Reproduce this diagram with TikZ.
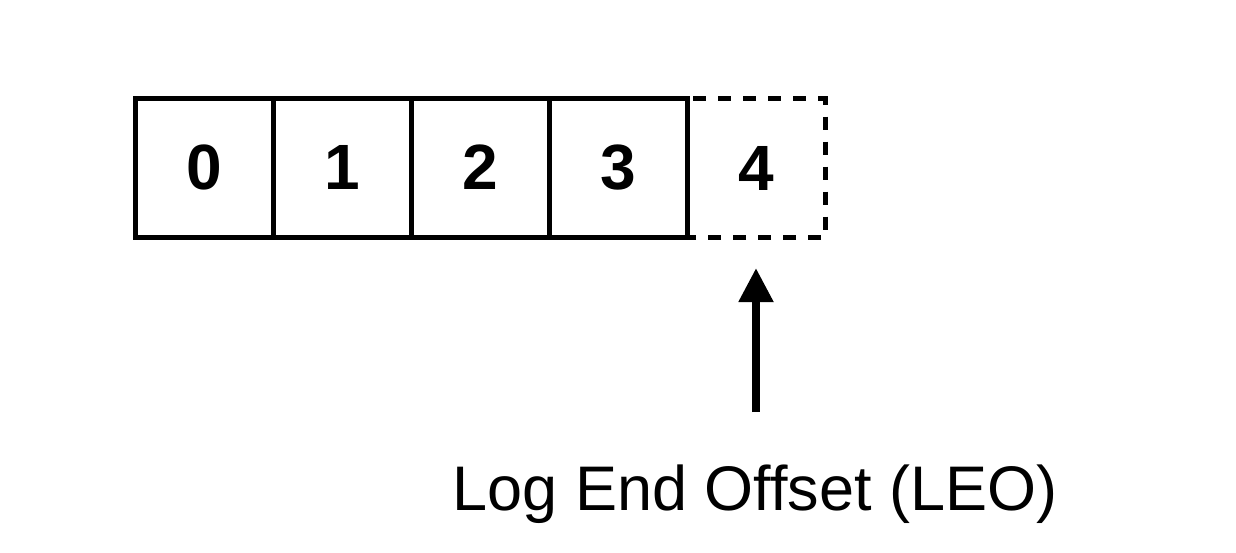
\documentclass[tikz,border=0pt]{standalone}
\usepackage{fontspec}
\setmainfont{Liberation Sans}
\usetikzlibrary{arrows.meta}
\begin{document}
\begin{tikzpicture}[x=1pt,y=-1pt,
  cell/.style={draw,line width=5pt,minimum width=138pt,minimum height=139pt,inner sep=0pt,outer sep=0pt,
    font=\fontsize{64}{70}\selectfont\bfseries},
  newcell/.style={cell,draw=none},
  dashedge/.style={line width=5pt,dash pattern=on 13pt off 12pt,dash phase=-6pt},
  pointer/.style={line width=8pt,-{Triangle[width=33pt,length=34pt]}}]
\useasboundingbox (0,0) rectangle (1236,552);
\node[cell] (c0) at (204,167.5) {0};
\node[cell] (c1) at (342,167.5) {1};
\node[cell] (c2) at (480,167.5) {2};
\node[cell] (c3) at (618,168) {3};
\node[newcell] (c4) at (756,168) {4};
\draw[dashedge] (c3.north east) -- (c4.north east) -- (c4.south east) -- (c3.south east);
\node[font=\fontsize{63}{70}\selectfont,anchor=base] (leo) at (755,510) {Log End Offset (LEO)};
\coordinate (tail) at (756,412);
\coordinate (tip) at (756,268);
\draw[pointer] (tail) -- (tip);
\end{tikzpicture}
\end{document}
